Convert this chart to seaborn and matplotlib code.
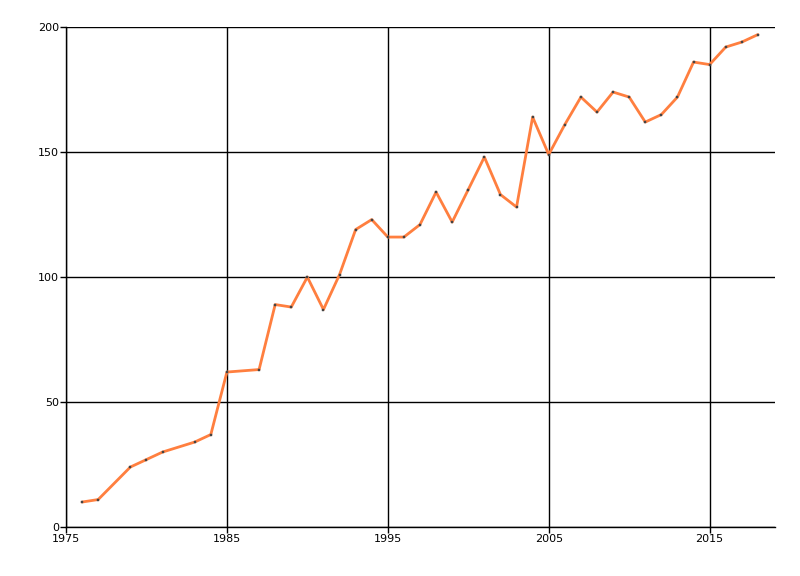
import pandas as pd
import seaborn as sns
import matplotlib.pyplot as plt

# Data
years = [1976, 1977, 1979, 1980, 1981, 1983, 1984, 1985, 1987, 1988,
         1989, 1990, 1991, 1992, 1993, 1994, 1995, 1996, 1997, 1998,
         1999, 2000, 2001, 2002, 2003, 2004, 2005, 2006, 2007, 2008,
         2009, 2010, 2011, 2012, 2013, 2014, 2015, 2016, 2017, 2018]
values = [10, 11, 24, 27, 30, 34, 37, 62, 63, 89,
          88, 100, 87, 101, 119, 123, 116, 116, 121, 134,
          122, 135, 148, 133, 128, 164, 149, 161, 172, 166,
          174, 172, 162, 165, 172, 186, 185, 192, 194, 197]
x_ticks = [1975, 1985, 1995, 2005, 2015]
y_ticks = [0, 50, 100, 150, 200]

df = pd.DataFrame({'year': years, 'value': values})

sns.set_style('white')
plt.rcParams['font.family'] = ['DejaVu Sans']

fig = plt.figure(figsize=(8, 5.76), dpi=100)
ax = fig.add_axes([0.0825, 0.085, 0.886, 0.868])

sns.lineplot(x='year', y='value', data=df, ax=ax, color='#ff7f3f', linewidth=2,
             marker='s', markersize=1.6, markerfacecolor='#444444',
             markeredgecolor='#444444', markeredgewidth=0.3, zorder=3)

ax.set_xlim(1975, 2019.05)
ax.set_ylim(0, 200)
ax.set_xticks(x_ticks)
ax.set_yticks(y_ticks)
ax.grid(True, color='black', linewidth=1)
ax.set_axisbelow(True)

for side in ['top', 'right']:
    ax.spines[side].set_visible(False)
for side in ['left', 'bottom']:
    ax.spines[side].set_color('black')
    ax.spines[side].set_linewidth(1)

ax.tick_params(axis='both', direction='out', length=4, width=1, color='black',
               labelsize=8, labelcolor='black', bottom=True, left=True, pad=1)
ax.set_xlabel('')
ax.set_ylabel('')

fig.savefig('out.png', dpi=100)
